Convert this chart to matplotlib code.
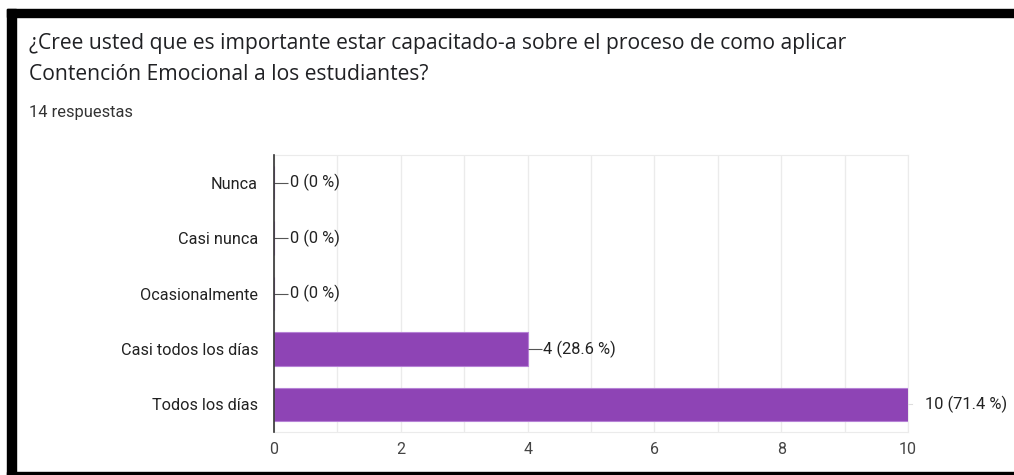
import matplotlib.pyplot as plt
from matplotlib.patches import Rectangle

# survey answers (top to bottom as shown)
categories = ["Nunca", "Casi nunca", "Ocasionalmente", "Casi todos los días", "Todos los días"]
counts = [0, 0, 0, 4, 10]
percent_labels = ["0 %", "0 %", "0 %", "28.6 %", "71.4 %"]
x_ticks = [0, 2, 4, 6, 8, 10]

title = "¿Cree usted que es importante estar capacitado-a sobre el proceso de como aplicar\nContención Emocional a los estudiantes?"
subtitle = "14 respuestas"

plt.rcParams['font.family'] = ['Roboto', 'DejaVu Sans']

fig = plt.figure(figsize=(10.14, 4.75), dpi=100)
fig.patch.set_facecolor("white")

# black frame from the screenshot
fig.add_artist(Rectangle((7/1014, 0), 9/1014, 1 - 9/475, transform=fig.transFigure, color="black"))
fig.add_artist(Rectangle((7/1014, 1 - 17/475), 1, 8/475, transform=fig.transFigure, color="black"))
fig.add_artist(Rectangle((7/1014, 0), 1, 3/475, transform=fig.transFigure, color="black"))

fig.text(29/1014, 1 - 43/475, title.split("\n")[0], fontsize=15.2, color="#202124",
         family=['Open Sans', 'DejaVu Sans'], va="center", ha="left")
fig.text(29/1014, 1 - 75/475, title.split("\n")[1], fontsize=15.2, color="#202124",
         family=['Open Sans', 'DejaVu Sans'], va="center", ha="left")
fig.text(29/1014, 1 - 112/475, subtitle, fontsize=11.8, color="#333333", va="center", ha="left")

ax = fig.add_axes([274/1014, 1 - 432/475, (908 - 274)/1014, (432 - 155)/475])
ypos = list(range(len(categories)))
ax.barh(ypos, counts, height=0.6, color="#8e44b5", edgecolor="#b682d6", linewidth=0.8, zorder=3)
ax.set_ylim(len(categories) - 0.5, -0.5)
ax.set_xlim(0, 10)
ax.set_yticks(ypos)
ax.set_yticklabels(categories, fontsize=11.7, color="#222222")
ax.set_xticks(x_ticks)
ax.set_xticklabels([str(t) for t in x_ticks], fontsize=11.5, color="#444444")
ax.set_xticks(range(0, 11), minor=True)
ax.tick_params(axis="y", length=0, pad=11.5)
ax.tick_params(axis="x", which="both", length=0, pad=7)
ax.grid(axis="x", which="both", color="#ebebeb", linewidth=1, zorder=0)

for s in ["top", "bottom", "right"]:
    ax.spines[s].set_color("#ebebeb")
ax.spines["left"].set_color("#333333")
ax.spines["left"].set_linewidth(1.2)
ax.spines["left"].set_zorder(4)

for y, c, p in zip(ypos, counts, percent_labels):
    if c < 10:
        ax.plot([c, c + 0.22], [y, y], color="#555555", lw=0.8, zorder=4, solid_capstyle="butt")
        ax.text(c + 0.25, y, f"{c} ({p})", fontsize=11.8, color="#222222", va="center", ha="left")
    else:
        ax.plot([c, c + 0.07], [y, y], color="#dddddd", lw=0.8, zorder=4, clip_on=False)
        ax.text(c + 0.27, y, f"{c} ({p})", fontsize=11.8, color="#222222", va="center",
                ha="left", clip_on=False)

fig.savefig("out.png", dpi=100, facecolor="white")
